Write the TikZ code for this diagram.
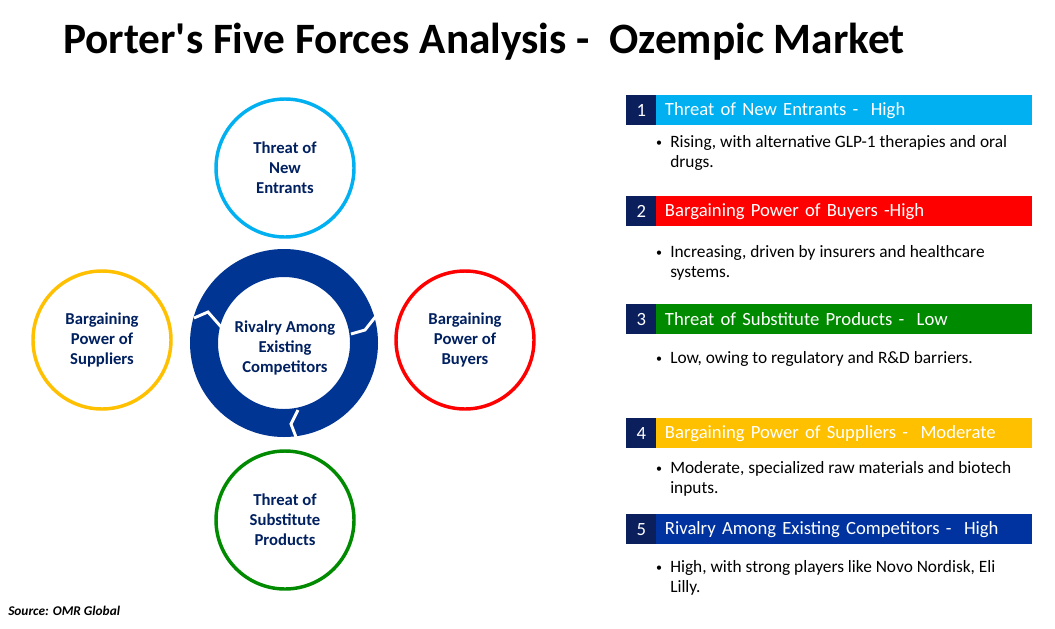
\documentclass[tikz,border=0pt]{standalone}
\usepackage{fontspec}
\setmainfont{Carlito}
\definecolor{navy}{HTML}{0A1F5C}
\definecolor{ringblue}{HTML}{003594}
\definecolor{cyanh}{HTML}{00B0F0}
\definecolor{redh}{HTML}{FF0000}
\definecolor{greenh}{HTML}{008A00}
\definecolor{goldh}{HTML}{FFC000}
\definecolor{blueh}{HTML}{0033A0}
\definecolor{txtblue}{HTML}{002060}
\begin{document}
\begin{tikzpicture}[x=0.75pt,y=-0.75pt,
  force/.style={circle,draw=#1,line width=2.6pt,minimum size=103.5pt,inner sep=0pt,align=center,font=\bfseries\fontsize{12.5}{15}\selectfont,text=txtblue},
  num/.style={fill=navy,text=white,minimum width=22.5pt,minimum height=22.5pt,inner sep=0pt,anchor=north west,font=\fontsize{14}{15}\selectfont},
  head/.style={fill=#1,text=white,minimum width=282pt,minimum height=22.5pt,inner sep=0pt,anchor=north west,text width=275pt,font=\fontsize{14}{15}\selectfont},
  bul/.style={anchor=north west,align=left,font=\fontsize{13}{15}\selectfont,inner sep=0pt}]
\useasboundingbox (0,0) rectangle (1055,628);
\fill[white] (0,0) rectangle (1055,628);
\node[font=\bfseries\fontsize{32.5}{36}\selectfont] (title) at (484,42) {Porter\textquotesingle s Five Forces Analysis -\ \ Ozempic Market};
\node[force=cyanh] (t1) at (285,168) {Threat of\\New\\Entrants};
\node[force=goldh] (t4) at (102,340) {Bargaining\\Power of\\Suppliers};
\node[force=redh] (t2) at (465,340) {Bargaining\\Power of\\Buyers};
\node[force=greenh] (t3) at (285,520) {Threat of\\Substitute\\Products};
% ring
\fill[ringblue,even odd rule] (284,343) circle[radius=70.5pt] (284,343) circle[radius=49.5pt];
\draw[white,line width=2.2pt] (194,318)--(208,312)--(222,328);
\draw[white,line width=2.2pt] (376,316)--(365,330)--(351,334);
\draw[white,line width=2.2pt] (298,410)--(291,424)--(296,437);
\node[font=\bfseries\fontsize{12.5}{15}\selectfont,text=txtblue,align=center] (t5) at (285,348) {Rivalry Among\\Existing\\Competitors};
% right list
\foreach \n/\y/\c/\t in {1/95/cyanh/{Threat of New Entrants -\ \ High},2/196/redh/{Bargaining Power of Buyers -High},3/304/greenh/{Threat of Substitute Products -\ \ Low},4/418/goldh/{Bargaining Power of Suppliers -\ \ Moderate},5/514/blueh/{Rivalry Among Existing Competitors -\ \ High}}{
  \node[num] (n\n) at (626,\y) {\n};
  \node[head=\c] (h\n) at (656,\y) {\hspace{3pt}\t};
}
\foreach \n/\y/\t in {1/135/{Rising, with alternative GLP-1 therapies and oral\\drugs.},2/245/{Increasing, driven by insurers and healthcare\\systems.},3/351/{Low, owing to regulatory and R\&D barriers.},4/461/{Moderate, specialized raw materials and biotech\\inputs.},5/560/{High, with strong players like Novo Nordisk, Eli\\Lilly.}}{
  \node[font=\fontsize{9}{15}\selectfont,inner sep=0pt] (d\n) at (659,\y+9) {•};
  \node[bul] (b\n) at (670,\y) {\t};
}
\node[anchor=west,font=\bfseries\itshape\fontsize{10}{11}\selectfont,inner sep=0pt] (src) at (8,611) {Source: OMR Global};
\end{tikzpicture}
\end{document}
